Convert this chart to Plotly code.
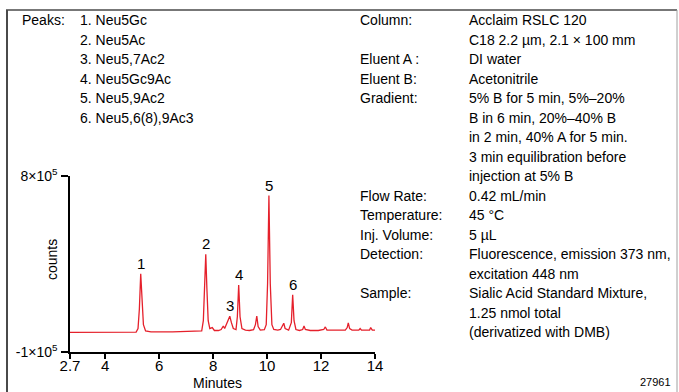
import plotly.graph_objects as go

# ---- data ----
time_min = [2.7, 3.5, 4.5, 5.15, 5.22, 5.27, 5.32, 5.37, 5.42, 5.5, 5.7, 6.5, 7.4,
            7.58, 7.64, 7.69, 7.73, 7.77, 7.82, 7.88, 7.97, 8.05, 8.2, 8.3, 8.38, 8.43,
            8.5, 8.55, 8.62, 8.68, 8.75, 8.85, 8.9, 8.95, 9.0, 9.07, 9.2, 9.35, 9.5,
            9.57, 9.62, 9.67, 9.75, 9.9, 9.97, 10.02, 10.07, 10.12, 10.18, 10.25, 10.4,
            10.5, 10.58, 10.62, 10.67, 10.8, 10.9, 10.95, 11.0, 11.07, 11.2, 11.32,
            11.37, 11.42, 11.6, 11.9, 12.1, 12.16, 12.22, 12.6, 12.9, 12.97, 13.01,
            13.06, 13.15, 13.4, 13.45, 13.5, 13.8, 13.84, 13.9, 14.0]
counts = [0, 0, 1000, 2000, 20000, 120000, 300000, 150000, 40000, 8000, 3000, 3000, 4000,
          8000, 60000, 250000, 400000, 230000, 60000, 20000, 25000, 10000, 10000, 15000, 33000, 20000,
          45000, 60000, 83000, 50000, 20000, 15000, 80000, 242000, 80000, 20000, 12000, 10000, 14000,
          40000, 84000, 30000, 12000, 14000, 40000, 250000, 700000, 250000, 40000, 15000, 12000,
          15000, 35000, 47000, 20000, 12000, 50000, 192000, 60000, 15000, 10000, 15000,
          33000, 15000, 10000, 10000, 15000, 28000, 12000, 10000, 12000, 25000, 49000,
          20000, 12000, 12000, 20000, 12000, 12000, 25000, 12000, 12000]

peak_labels = ["1", "2", "3", "4", "5", "6"]
peak_times = [5.32, 7.73, 8.62, 8.95, 10.07, 10.95]
peak_heights = [300000, 400000, 83000, 242000, 700000, 192000]

x_tickvals = [2.7, 4, 6, 8, 10, 12, 14]
x_ticktext = ["2.7", "4", "6", "8", "10", "12", "14"]
y_tickvals = [-100000, 800000]
y_ticktext = ["-1×10<sup>5</sup>", "8×10<sup>5</sup>"]

peaks_title = "Peaks:"
peaks_list = ["1. Neu5Gc", "2. Neu5Ac", "3. Neu5,7Ac2", "4. Neu5Gc9Ac",
              "5. Neu5,9Ac2", "6. Neu5,6(8),9Ac3"]

cond_labels = ["Column:", "", "Eluent A :", "Eluent B:", "Gradient:", "", "", "", "",
               "Flow Rate:", "Temperature:", "Inj. Volume:", "Detection:", "", "Sample:", "", ""]
cond_values = ["Acclaim RSLC 120", "C18 2.2 µm, 2.1 × 100 mm", "DI water", "Acetonitrile",
               "5% B for 5 min, 5%–20%", "B in 6 min, 20%–40% B", "in 2 min, 40% A for 5 min.",
               "3 min equilibration before", "injection at 5% B", "0.42 mL/min", "45 °C", "5 µL",
               "Fluorescence, emission 373 nm,", "excitation 448 nm",
               "Sialic Acid Standard Mixture,", "1.25 nmol total", "(derivatized with DMB)"]
fig_id = "27961"

# ---- layout geometry (pixels) ----
W, H = 679, 392
L, R, T, B = 70, 304, 176, 40
PW, PH = W - L - R, H - T - B


def px(x):
    return (x - L) / PW


def py(y):
    return (H - B - y) / PH


FONT = "Liberation Sans, Arial, Helvetica, sans-serif"
RED = "#e5202b"

fig = go.Figure()
fig.add_trace(go.Scatter(x=time_min, y=counts, mode="lines",
                         line=dict(color=RED, width=1.3), hoverinfo="skip",
                         showlegend=False))

annotations = []
for lab, t, h in zip(peak_labels, peak_times, peak_heights):
    annotations.append(dict(x=t, y=h, xref="x", yref="y", text=lab, showarrow=False,
                            yanchor="bottom", xanchor="center", yshift=0,
                            font=dict(size=15, color="black", family=FONT)))

# Peaks list
annotations.append(dict(x=px(20), y=py(20), xref="paper", yref="paper", text=peaks_title,
                        showarrow=False, xanchor="left", yanchor="middle",
                        font=dict(size=14, color="black", family=FONT)))
for i, s in enumerate(peaks_list):
    annotations.append(dict(x=px(78), y=py(20 + 19.5 * i), xref="paper", yref="paper",
                            text=s, showarrow=False, xanchor="left", yanchor="middle",
                            font=dict(size=14, color="black", family=FONT)))

# Conditions
for i, (lab, val) in enumerate(zip(cond_labels, cond_values)):
    yy = py(20 + 19.5 * i)
    if lab:
        annotations.append(dict(x=px(358), y=yy, xref="paper", yref="paper", text=lab,
                                showarrow=False, xanchor="left", yanchor="middle",
                                font=dict(size=14, color="black", family=FONT)))
    annotations.append(dict(x=px(467), y=yy, xref="paper", yref="paper", text=val,
                            showarrow=False, xanchor="left", yanchor="middle",
                            font=dict(size=14, color="black", family=FONT)))

annotations.append(dict(x=px(673), y=py(382), xref="paper", yref="paper", text=fig_id,
                        showarrow=False, xanchor="right", yanchor="middle",
                        font=dict(size=11, color="black", family=FONT)))

# axis titles
annotations.append(dict(x=px(52), y=py(260), xref="paper", yref="paper", text="counts",
                        showarrow=False, textangle=-90, xanchor="center", yanchor="middle",
                        font=dict(size=14, color="black", family=FONT)))
annotations.append(dict(x=px(217), y=py(383), xref="paper", yref="paper", text="Minutes",
                        showarrow=False, xanchor="center", yanchor="middle",
                        font=dict(size=14, color="black", family=FONT)))

shapes = [
    dict(type="line", xref="paper", yref="paper", x0=px(7), x1=px(7), y0=py(10), y1=py(400),
         line=dict(color="#4a4a4a", width=2)),
    dict(type="line", xref="paper", yref="paper", x0=px(6), x1=px(677), y0=py(10), y1=py(10),
         line=dict(color="#4a4a4a", width=1.5)),
    dict(type="line", xref="paper", yref="paper", x0=px(677), x1=px(677), y0=py(10), y1=py(400),
         line=dict(color="#a0a0a0", width=1)),
]

fig.update_layout(
    width=W, height=H,
    margin=dict(l=L, r=R, t=T, b=B, pad=0),
    paper_bgcolor="white", plot_bgcolor="white",
    font=dict(family=FONT, color="black", size=14),
    annotations=annotations, shapes=shapes,
    xaxis=dict(range=[2.7, 14], tickvals=x_tickvals, ticktext=x_ticktext,
               showgrid=False, zeroline=False, showline=True, linecolor="black",
               linewidth=1.5, ticks="outside", ticklen=5, tickwidth=1.5, tickcolor="black",
               ticklabelstandoff=-6,
               tickfont=dict(size=15, family=FONT, color="black")),
    yaxis=dict(range=[-100000, 800000], tickvals=y_tickvals, ticktext=y_ticktext,
               showgrid=False, zeroline=False, showline=True, linecolor="black",
               linewidth=1.5, ticks="outside", ticklen=7, tickwidth=1.5, tickcolor="black",
               ticklabelstandoff=1,
               tickfont=dict(size=14, family=FONT, color="black")),
)

fig.write_html("out.html", config={"displayModeBar": False},
               post_script="document.body.style.margin='0px';document.body.style.overflow='hidden';")
